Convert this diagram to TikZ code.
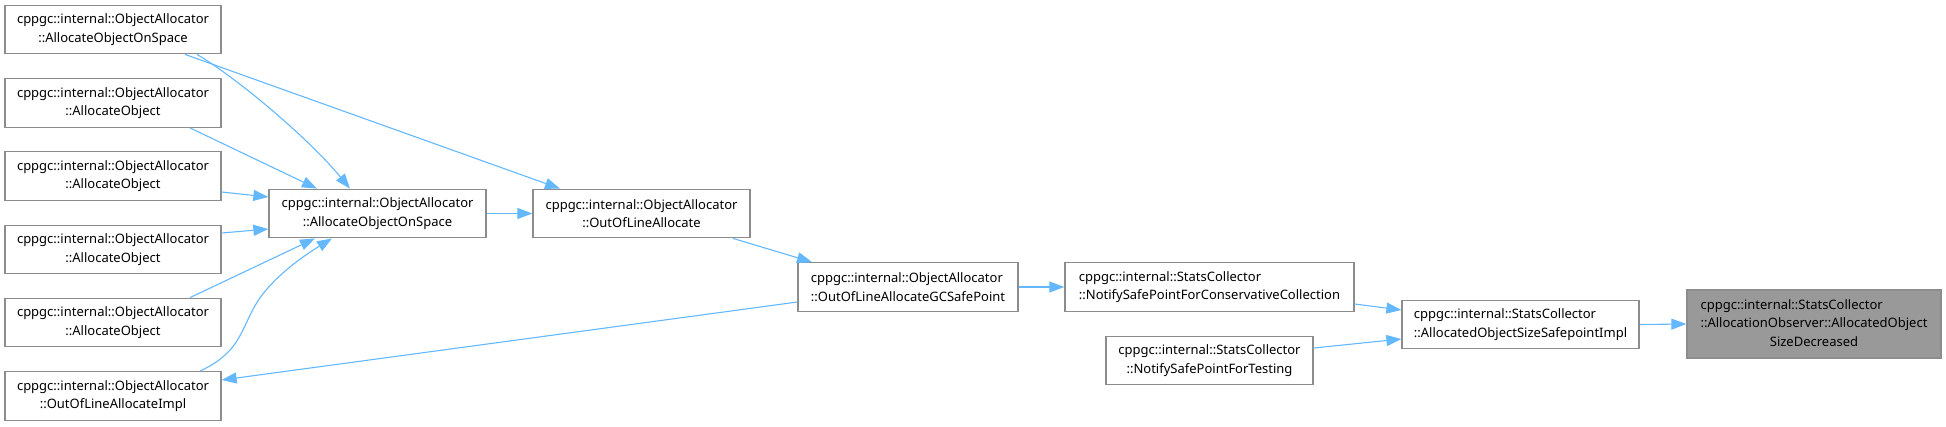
\documentclass[tikz,border=0pt]{standalone}
\usepackage{fontspec}
\setmainfont{Noto Sans}
\usetikzlibrary{arrows.meta,calc}
\definecolor{edgeblue}{HTML}{63B8FF}
\definecolor{boxgray}{HTML}{8C8C8C}
\definecolor{fillgray}{HTML}{999999}
\tikzset{
  fn/.style={draw=boxgray, line width=1.3pt, fill=white, inner sep=0pt,
    font=\fontsize{13}{18.7}\selectfont, align=center, minimum height=48.5pt},
  fnl/.style={fn, align=left},
  conn/.style={draw=edgeblue, line width=1.1pt, -{Triangle[length=15pt,width=11pt]}},
}
\begin{document}
\begin{tikzpicture}[x=1pt,y=-1pt]
\useasboundingbox (0,0) rectangle (1946,426);
% left column
\node[fn, minimum width=216pt] (b1) at (113,29.5) {cppgc::internal::ObjectAllocator\\::AllocateObjectOnSpace};
\node[fn, minimum width=216pt] (b2) at (113,103) {cppgc::internal::ObjectAllocator\\::AllocateObject};
\node[fn, minimum width=216pt] (b3) at (113,176) {cppgc::internal::ObjectAllocator\\::AllocateObject};
\node[fn, minimum width=216pt] (b4) at (113,249.5) {cppgc::internal::ObjectAllocator\\::AllocateObject};
\node[fn, minimum width=216pt] (b5) at (113,322.5) {cppgc::internal::ObjectAllocator\\::AllocateObject};
\node[fn, minimum width=216pt] (b6) at (113,396) {cppgc::internal::ObjectAllocator\\::OutOfLineAllocateImpl};
% middle
\node[fn, minimum width=217pt] (aos) at (377.5,213.5) {cppgc::internal::ObjectAllocator\\::AllocateObjectOnSpace};
\node[fn, minimum width=217pt] (oola) at (641.5,213.5) {cppgc::internal::ObjectAllocator\\::OutOfLineAllocate};
\node[fnl, minimum width=220pt] (gcsp) at (908,287) {cppgc::internal::ObjectAllocator\\::OutOfLineAllocateGCSafePoint};
\node[fnl, minimum width=289pt] (nc) at (1209.5,287) {cppgc::internal::StatsCollector\\::NotifySafePointForConservativeCollection};
\node[fn, minimum width=207pt] (nt) at (1209.5,360.5) {cppgc::internal::StatsCollector\\::NotifySafePointForTesting};
\node[fnl, minimum width=237pt] (aossi) at (1520.5,324.5) {cppgc::internal::StatsCollector\\::AllocatedObjectSizeSafepointImpl};
\node[fn, fill=fillgray, minimum width=254pt, minimum height=68pt] (fin) at (1814,324) {\begin{tabular}{@{}l@{}}cppgc::internal::StatsCollector\\::AllocationObserver::AllocatedObject\\\multicolumn{1}{@{}c@{}}{SizeDecreased}\end{tabular}};
% edges
\draw[conn] ([xshift=84pt]b1.south) .. controls (240,80) and (310,140) .. ([xshift=-27.5pt]aos.north);
\draw[conn] ([xshift=72pt]b1.south) -- ([xshift=-81.5pt]oola.north);
\draw[conn] ([xshift=77pt]b2.south) -- ([xshift=-60.5pt]aos.north);
\draw[conn] ([yshift=-16pt]b3.east) -- ([yshift=16.5pt]aos.west);
\draw[conn] ([yshift=16.5pt]b4.east) -- ([yshift=-15.5pt]aos.west);
\draw[conn] ([xshift=77pt]b5.north) -- ([xshift=-62.5pt]aos.south);
\draw[conn] ([xshift=87pt]b6.north) .. controls (245,350) and (240,325) .. (262,295) .. controls (280,272) and (305,255) .. ([xshift=-45.5pt]aos.south);
\draw[conn] (aos.east) -- (oola.west);
\draw[conn] ([xshift=91.5pt]oola.south) -- ([xshift=-96pt]gcsp.north);
\draw[conn] ([yshift=-15pt]gcsp.west) -- ([yshift=16pt]b6.east);
\draw[conn] (gcsp.east) -- (nc.west);
\draw[conn] ([yshift=-17pt]nc.east) -- ([yshift=14.5pt]aossi.west);
\draw[conn] ([yshift=12.5pt]nt.east) -- ([yshift=-14.5pt]aossi.west);
\draw[conn] (aossi.east) -- (fin.west);
\end{tikzpicture}
\end{document}
